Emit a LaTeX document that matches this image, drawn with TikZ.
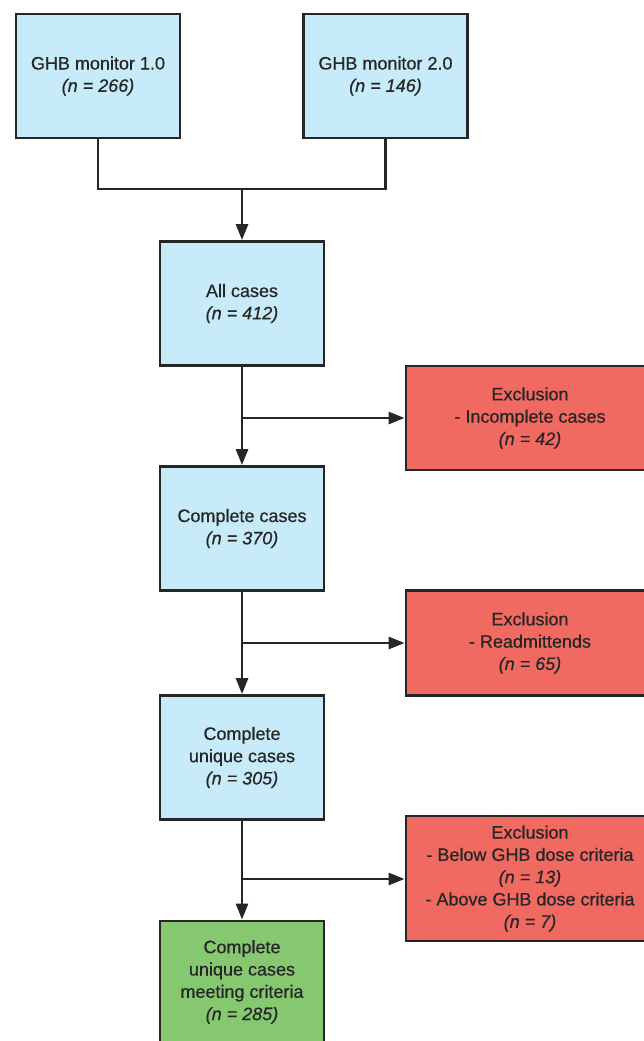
\documentclass[tikz,border=0pt]{standalone}
\usepackage{fontspec}
\setmainfont{Liberation Sans}[FakeBold=0.5]
\usetikzlibrary{arrows.meta}
\definecolor{bluebox}{HTML}{C7EBF8}
\definecolor{redbox}{HTML}{F06A62}
\definecolor{greenbox}{HTML}{86C870}
\definecolor{linec}{HTML}{262626}
\begin{document}
\begin{tikzpicture}[x=1pt,y=-1pt,
  box/.style={draw=linec,line width=2.8pt,align=center,text=linec,inner sep=0pt,
    font=\fontsize{18}{22.3}\selectfont},
  bluebox/.style={box,fill=bluebox,minimum width=164pt,minimum height=124pt},
  redb/.style={box,fill=redbox,minimum width=248pt},
  greenb/.style={box,fill=greenbox,minimum width=164pt,minimum height=122pt},
  conn/.style={draw=linec,line width=2.8pt},
  arr/.style={conn,-{Triangle[width=12pt,length=16pt]}}]
\useasboundingbox (0,0) rectangle (643,1041);
\node[bluebox] (m1) at (98,76) {GHB monitor 1.0\\\textit{(n = 266)}};
\node[bluebox] (m2) at (385.5,76) {GHB monitor 2.0\\\textit{(n = 146)}};
\node[bluebox] (all) at (242,303.5) {All cases\\\textit{(n = 412)}};
\node[bluebox] (comp) at (242,528.5) {Complete cases\\\textit{(n = 370)}};
\node[bluebox] (uniq) at (242,757.5) {Complete\\unique cases\\\textit{(n = 305)}};
\node[greenb] (fin) at (242,982) {Complete\\unique cases\\meeting criteria\\\textit{(n = 285)}};
\node[redb,minimum height=104pt] (ex1) at (530,418) {Exclusion\\- Incomplete cases\\\textit{(n = 42)}};
\node[redb,minimum height=105pt] (ex2) at (530,643) {Exclusion\\- Readmittends\\\textit{(n = 65)}};
\node[redb,minimum height=125pt] (ex3) at (530,878.5) {Exclusion\\- Below GHB dose criteria\\\textit{(n = 13)}\\- Above GHB dose criteria\\\textit{(n = 7)}};
\coordinate (j0) at (242,189);
\draw[conn] (m1.south) |- (j0) -| (m2.south);
\draw[arr] (j0) -- (all.north);
\draw[arr] (all.south) -- (comp.north);
\draw[arr] (comp.south) -- (uniq.north);
\draw[arr] (uniq.south) -- (fin.north);
\coordinate (b1) at (242,418);
\coordinate (b2) at (242,643);
\coordinate (b3) at (242,879);
\draw[arr] (b1) -- (ex1.west |- b1);
\draw[arr] (b2) -- (ex2.west |- b2);
\draw[arr] (b3) -- (ex3.west |- b3);
\end{tikzpicture}
\end{document}
